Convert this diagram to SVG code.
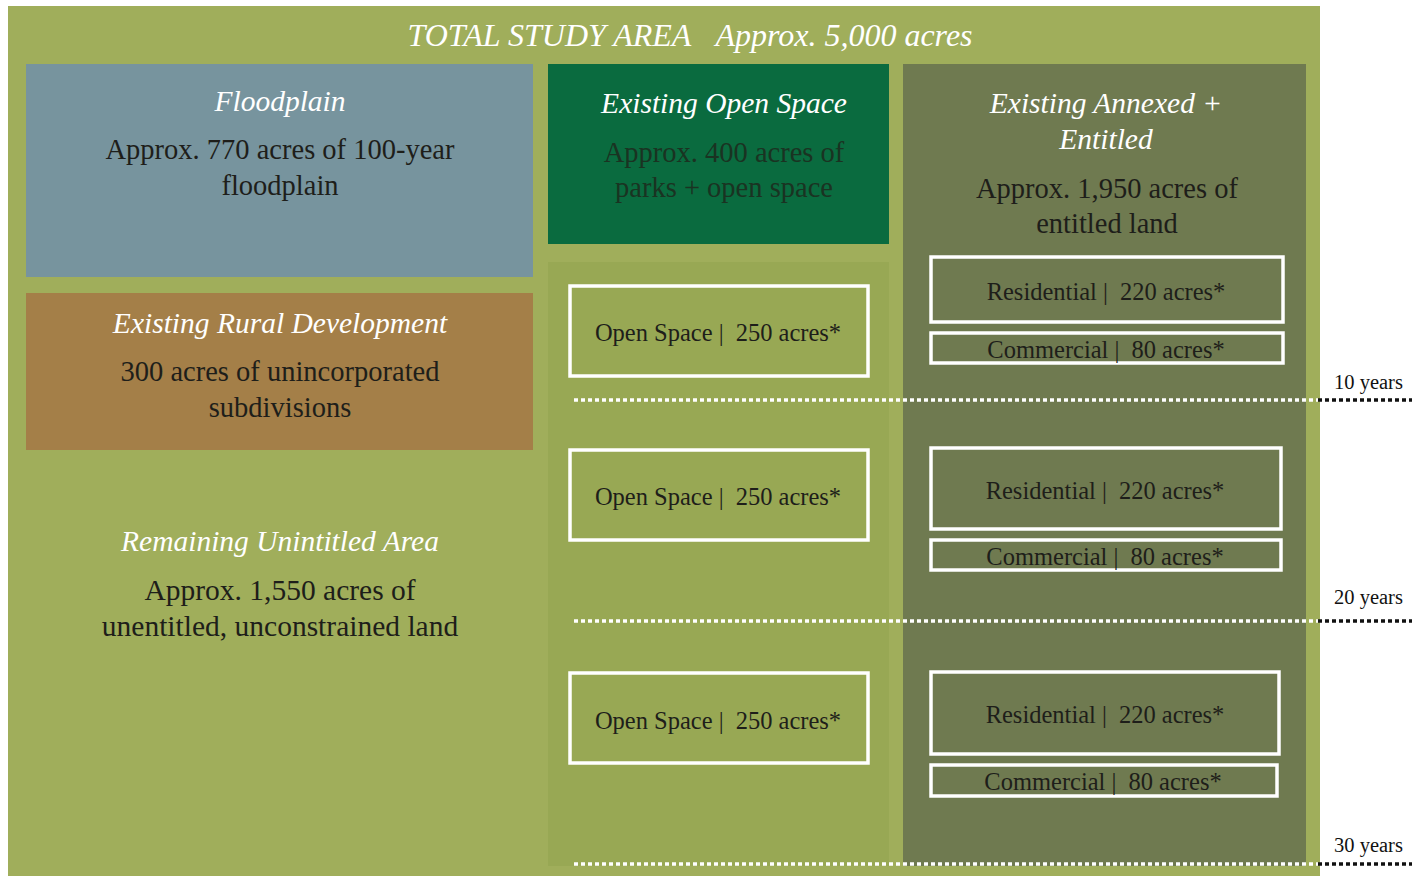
<svg xmlns="http://www.w3.org/2000/svg" width="1424" height="876" viewBox="0 0 1424 876">
<style>
.ti{font-family:"Liberation Serif",serif;font-style:italic;fill:#ffffff;text-anchor:middle;font-size:29.5px}
.bd{font-family:"Liberation Serif",serif;fill:#1e1e1a;text-anchor:middle;font-size:28.5px}
.sm{font-family:"Liberation Serif",serif;fill:#1e1e1a;text-anchor:middle;font-size:24.5px}
.box{fill:none;stroke:#ffffff;stroke-width:3.5}
.yr{font-family:"Liberation Serif",serif;fill:#111;font-size:20.5px}
.dw{stroke:#ffffff;stroke-width:3.5;stroke-dasharray:4 3}
.dk{stroke:#111111;stroke-width:3.5;stroke-dasharray:4 3}
</style>
<rect width="1424" height="876" fill="#ffffff"/>
<g id="study-area">
<rect x="8" y="6" width="1312" height="870" fill="#a0ae5b"/>
<text class="ti" x="690" y="46" style="font-size:32px"><tspan>TOTAL STUDY AREA</tspan><tspan dx="24">Approx. 5,000 acres</tspan></text>
</g>
<g id="floodplain">
<rect x="26" y="64" width="507" height="213" fill="#77949e"/>
<text class="ti" x="280" y="111">Floodplain</text>
<text class="bd" x="280" y="159">Approx. 770 acres of 100-year</text>
<text class="bd" x="280" y="195">floodplain</text>
</g>
<g id="rural">
<rect x="26" y="293" width="507" height="157" fill="#a47f48"/>
<text class="ti" x="280" y="333">Existing Rural Development</text>
<text class="bd" x="280" y="381">300 acres of unincorporated</text>
<text class="bd" x="280" y="417">subdivisions</text>
</g>
<g id="remaining">
<text class="ti" x="280" y="551">Remaining Unintitled Area</text>
<text class="bd" x="280" y="600" style="font-size:29.5px">Approx. 1,550 acres of</text>
<text class="bd" x="280" y="636" style="font-size:29.5px">unentitled, unconstrained land</text>
</g>
<g id="open-space">
<rect x="548" y="64" width="341" height="180" fill="#0a6b3f"/>
<text class="ti" x="724" y="113">Existing Open Space</text>
<text class="bd" x="724" y="162" style="fill:#1a3322">Approx. 400 acres of</text>
<text class="bd" x="724" y="197" style="fill:#1a3322">parks + open space</text>
</g>
<g id="open-space-column">
<rect x="548" y="262" width="341" height="604" fill="#98a854"/>
</g>
<g id="os-10">
<rect class="box" x="570" y="286" width="298" height="90"/>
<text class="sm" x="718" y="341">Open Space |<tspan dx="12">250 acres*</tspan></text>
</g>
<g id="os-20">
<rect class="box" x="570" y="450" width="298" height="90"/>
<text class="sm" x="718" y="505">Open Space |<tspan dx="12">250 acres*</tspan></text>
</g>
<g id="os-30">
<rect class="box" x="570" y="673" width="298" height="90"/>
<text class="sm" x="718" y="729">Open Space |<tspan dx="12">250 acres*</tspan></text>
</g>
<g id="annexed">
<rect x="903" y="64" width="403" height="802" fill="#6f7a50"/>
<text class="ti" x="1106" y="113">Existing Annexed +</text>
<text class="ti" x="1106" y="149">Entitled</text>
<text class="bd" x="1107" y="198">Approx. 1,950 acres of</text>
<text class="bd" x="1107" y="233">entitled land</text>
</g>
<g id="res-10">
<rect class="box" x="931" y="257" width="352" height="65"/>
<text class="sm" x="1106" y="300">Residential |<tspan dx="12">220 acres*</tspan></text>
</g>
<g id="com-10">
<rect class="box" x="931" y="333" width="352" height="30"/>
<text class="sm" x="1106" y="358">Commercial |<tspan dx="12">80 acres*</tspan></text>
</g>
<g id="res-20">
<rect class="box" x="931" y="448" width="350" height="81"/>
<text class="sm" x="1105" y="499">Residential |<tspan dx="12">220 acres*</tspan></text>
</g>
<g id="com-20">
<rect class="box" x="931" y="540" width="350" height="30"/>
<text class="sm" x="1105" y="565">Commercial |<tspan dx="12">80 acres*</tspan></text>
</g>
<g id="res-30">
<rect class="box" x="931" y="672" width="348" height="82"/>
<text class="sm" x="1105" y="723">Residential |<tspan dx="12">220 acres*</tspan></text>
</g>
<g id="com-30">
<rect class="box" x="931" y="765" width="346" height="31"/>
<text class="sm" x="1103" y="790">Commercial |<tspan dx="12">80 acres*</tspan></text>
</g>
<g id="timelines">
<line class="dw" x1="574" y1="400" x2="1318" y2="400"/>
<line class="dk" x1="1318" y1="400" x2="1412" y2="400"/>
<line class="dw" x1="574" y1="621" x2="1318" y2="621"/>
<line class="dk" x1="1318" y1="621" x2="1412" y2="621"/>
<line class="dw" x1="574" y1="864" x2="1318" y2="864"/>
<line class="dk" x1="1318" y1="864" x2="1412" y2="864"/>
<text class="yr" x="1334" y="389">10 years</text>
<text class="yr" x="1334" y="604">20 years</text>
<text class="yr" x="1334" y="852">30 years</text>
</g>
</svg>
